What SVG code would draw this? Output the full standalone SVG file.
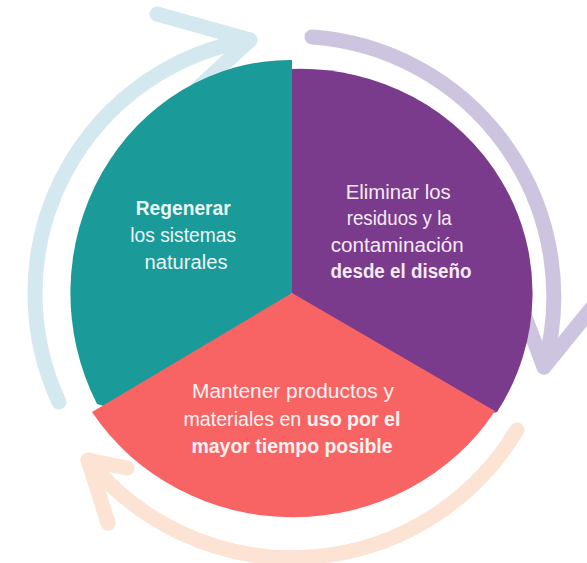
<svg xmlns="http://www.w3.org/2000/svg" width="587" height="563" viewBox="0 0 587 563">
  <style>
    .arr { fill: none; stroke-width: 15; stroke-linecap: round; stroke-linejoin: round; }
    .blue { stroke: #D4E8EF; }
    .lav { stroke: #CDC5DF; }
    .peach { stroke: #FCE3D3; }
    .lbl { font-family: "Liberation Sans", Arial, sans-serif; font-size: 20px; text-anchor: middle; }
    .b { font-weight: bold; }
  </style>
  <rect width="587" height="563" fill="#FFFFFF"/>
  <g id="connectors">
    <path class="arr blue" d="M59,402 A257,257 0 0 1 250,40"/>
    <polyline class="arr blue" points="157,14 250,40 198,88"/>
    <path class="arr lav" d="M312,37 A260,260 0 0 1 544,367"/>
    <polyline class="arr lav" points="525,317 544,367 600,298"/>
    <path class="arr peach" d="M517,430 A262,262 0 0 1 88,460"/>
    <polyline class="arr peach" points="108,523 88,460 127,468"/>
  </g>
  <g id="regenerar">
    <path d="M292,293 L292,60 A220,233 0 0 0 97,404 L150,420 Z" fill="#1A9A98"/>
    <text class="lbl" fill="#EAF6F6">
      <tspan class="b" x="186" y="215" textLength="95" lengthAdjust="spacingAndGlyphs">Regenerar</tspan>
      <tspan x="186" y="242" textLength="106" lengthAdjust="spacingAndGlyphs">los sistemas</tspan>
      <tspan x="186" y="269" textLength="83" lengthAdjust="spacingAndGlyphs">naturales</tspan>
    </text>
  </g>
  <g id="eliminar">
    <path d="M292,293 L292,69 A232,224 0 0 1 497,412 L420,430 Z" fill="#7A3B8D"/>
    <text class="lbl" fill="#F4EAF5">
      <tspan x="401" y="199" textLength="105" lengthAdjust="spacingAndGlyphs">Eliminar los</tspan>
      <tspan x="402" y="225" textLength="105" lengthAdjust="spacingAndGlyphs">residuos y la</tspan>
      <tspan x="400" y="252" textLength="133" lengthAdjust="spacingAndGlyphs">contaminación</tspan>
      <tspan class="b" x="401" y="278" textLength="141" lengthAdjust="spacingAndGlyphs">desde el diseño</tspan>
    </text>
  </g>
  <g id="mantener">
    <path d="M292,293 L92,412 A238,226 0 0 0 495,411 Z" fill="#F86464"/>
    <text class="lbl" fill="#FFF2F2">
      <tspan x="293" y="398" textLength="202" lengthAdjust="spacingAndGlyphs">Mantener productos y</tspan>
    </text>
    <text class="lbl" fill="#FFF2F2" x="292" y="426" textLength="217" lengthAdjust="spacingAndGlyphs">materiales en <tspan class="b">uso por el</tspan></text>
    <text class="lbl b" fill="#FFF2F2" x="292" y="453" textLength="201" lengthAdjust="spacingAndGlyphs">mayor tiempo posible</text>
  </g>
</svg>
